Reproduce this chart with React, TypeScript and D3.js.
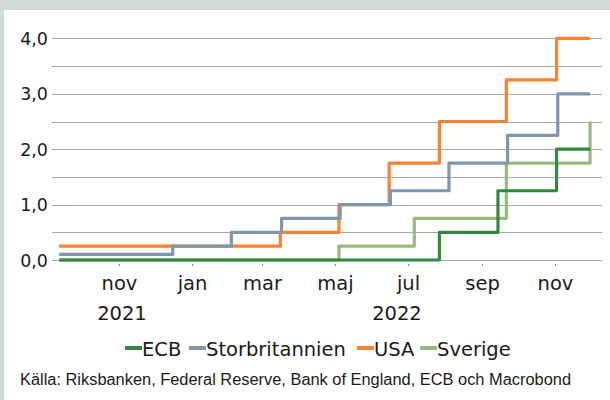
import React from "react";
import * as d3 from "d3";

const seriesNames = ["ECB", "Storbritannien", "USA", "Sverige"];
const seriesColors = ["#33883f", "#7d97ad", "#fa8232", "#98ba7c"];

const ecbDates = ["2021-09-12", "2022-07-27", "2022-09-14", "2022-11-02", "2022-11-30"];
const ecbValues = [0, 0.5, 1.25, 2.0, 2.0];

const ukDates = ["2021-09-12", "2021-12-16", "2022-02-03", "2022-03-17", "2022-05-05", "2022-06-16", "2022-08-04", "2022-09-22", "2022-11-03", "2022-11-30"];
const ukValues = [0.1, 0.25, 0.5, 0.75, 1.0, 1.25, 1.75, 2.25, 3.0, 3.0];

const usaDates = ["2021-09-12", "2022-03-16", "2022-05-04", "2022-06-15", "2022-07-27", "2022-09-21", "2022-11-02", "2022-11-30"];
const usaValues = [0.25, 0.5, 1.0, 1.75, 2.5, 3.25, 4.0, 4.0];

const seDates = ["2021-09-12", "2022-05-04", "2022-07-06", "2022-09-21", "2022-11-30"];
const seValues = [0, 0.25, 0.75, 1.75, 2.5];

const yTicks = [0, 1, 2, 3, 4];
const gridValues = [0, 0.5, 1, 1.5, 2, 2.5, 3, 3.5, 4];
const monthTickDates = ["2021-11-01", "2022-01-01", "2022-03-01", "2022-05-01", "2022-07-01", "2022-09-01", "2022-11-01"];
const monthTickLabels = ["nov", "jan", "mar", "maj", "jul", "sep", "nov"];
const yearLabels = ["2021", "2022"];
const yearStarts = ["2021-01-01", "2022-01-01"];
const yearEnds = ["2022-01-01", "2023-01-01"];

const domainStart = "2021-09-06";
const domainEnd = "2022-12-10";

const sourceText = "Källa: Riksbanken, Federal Reserve, Bank of England, ECB och Macrobond";

const parse = d3.utcParse("%Y-%m-%d");

export default function App() {
  const W = 610, H = 400;
  const x0 = 52, x1 = 602;
  const x = d3.scaleUtc().domain([parse(domainStart)!, parse(domainEnd)!]).range([x0, x1]);
  const y = d3.scaleLinear().domain([0, 4]).range([260, 38.4]);

  const series = [
    { dates: ecbDates, values: ecbValues },
    { dates: ukDates, values: ukValues },
    { dates: usaDates, values: usaValues },
    { dates: seDates, values: seValues },
  ].map((s, i) => ({
    name: seriesNames[i],
    color: seriesColors[i],
    pts: s.dates.map((d, j) => [parse(d)!, s.values[j]] as [Date, number]),
  }));

  const line = d3
    .line<[Date, number]>()
    .x((d) => x(d[0]))
    .y((d) => y(d[1]))
    .curve(d3.curveStepAfter);

  const fmt = (v: number) => d3.format(".1f")(v).replace(".", ",");
  const chartFont = "'DejaVu Sans', sans-serif";

  const [dMin, dMax] = x.domain();
  const legendLayout = [
    { sx: 125, tx: 142 },
    { sx: 189, tx: 206 },
    { sx: 357, tx: 374 },
    { sx: 420, tx: 437 },
  ];

  return (
    <svg width={W} height={H} style={{ position: "absolute", left: 0, top: 0, background: "#fff" }}>
      <rect x={0} y={0} width={W} height={10} fill="#cedcd5" />
      <rect x={0} y={0} width={4} height={H} fill="#cedcd5" />

      {gridValues.map((v) => (
        <line key={v} x1={x0} x2={x1} y1={Math.round(y(v)) + 0.5} y2={Math.round(y(v)) + 0.5} stroke="#a8a8a8" strokeWidth={1} />
      ))}

      {yTicks.map((v) => (
        <text key={v} x={48} y={y(v) + 6.5} textAnchor="end" fontFamily={chartFont} fontSize={17.5} fill="#1a1a1a">
          {fmt(v)}
        </text>
      ))}

      {monthTickDates.map((d, i) => {
        const tx = Math.round(x(parse(d)!)) + 0.5;
        return (
          <g key={d}>
            <line x1={tx} x2={tx} y1={264} y2={266} stroke="#888" strokeWidth={1} />
            <text x={tx} y={290} textAnchor="middle" fontFamily={chartFont} fontSize={19.5} fill="#1a1a1a">
              {monthTickLabels[i]}
            </text>
          </g>
        );
      })}

      {yearLabels.map((lab, i) => {
        const a = Math.max(+parse(yearStarts[i])!, +dMin);
        const b = Math.min(+parse(yearEnds[i])!, +dMax);
        const cx = (x(new Date(a)) + x(new Date(b))) / 2;
        return (
          <text key={lab} x={cx} y={320} textAnchor="middle" fontFamily={chartFont} fontSize={19.5} fill="#1a1a1a">
            {lab}
          </text>
        );
      })}

      {series
        .slice()
        .reverse()
        .map((s) => (
          <path key={s.name} d={line(s.pts) || ""} fill="none" stroke={s.color} strokeWidth={3.2} strokeLinejoin="round" />
        ))}

      {series.map((s, i) => (
        <g key={s.name}>
          <line x1={legendLayout[i].sx} x2={legendLayout[i].sx + 17} y1={348} y2={348} stroke={s.color} strokeWidth={4} />
          <text x={legendLayout[i].tx} y={356} fontFamily={chartFont} fontSize={19.5} fill="#1a1a1a">
            {s.name}
          </text>
        </g>
      ))}

      <text x={20} y={385} fontFamily="'Liberation Sans', Arial, sans-serif" fontSize={16} textLength={551} lengthAdjust="spacingAndGlyphs" fill="#1a1a1a">
        {sourceText}
      </text>
    </svg>
  );
}
